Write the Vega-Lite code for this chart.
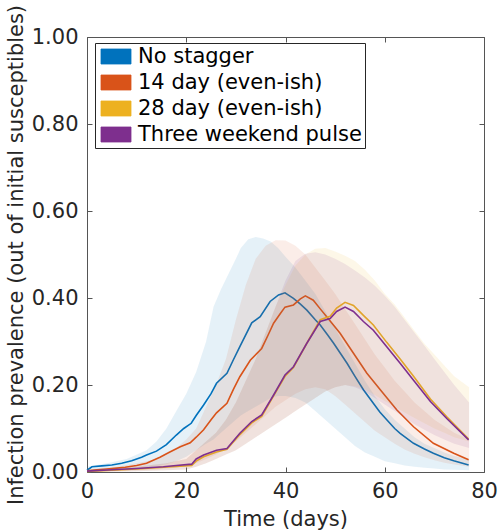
{
  "$schema": "https://vega.github.io/schema/vega-lite/v6.json",
  "autosize": {"type": "none"},
  "padding": {"left": 87, "top": 37, "right": 17, "bottom": 60},
  "width": 397,
  "height": 435,
  "background": "white",
  "config": {
    "view": {"stroke": null},
    "axis": {
      "grid": false,
      "labelFlush": false,
      "domainColor": "#555555",
      "domainWidth": 1,
      "tickColor": "#555555",
      "tickWidth": 1,
      "labelFont": "DejaVu Sans",
      "labelFontSize": 21,
      "labelColor": "#262626",
      "titleFont": "DejaVu Sans",
      "titleFontSize": 21,
      "titleFontWeight": "normal",
      "titleColor": "#262626"
    },
    "legend": {
      "orient": "none", "legendX": 8, "legendY": 6, "title": null,
      "symbolType": "M-1,-1L3,-1L3,1L-1,1Z", "symbolSize": 225,
      "labelFont": "DejaVu Sans", "labelFontSize": 21, "labelColor": "#000000", "labelLimit": 500,
      "labelOffset": 19, "rowPadding": 4, "padding": 3,
      "strokeColor": "#262626", "fillColor": "white",
      "symbolOpacity": 1, "symbolStrokeWidth": 0.8, "symbolStrokeColor": "#333333"
    }
  },
  "datasets": {
    "lines": [
      {"s": "No stagger", "d": 0, "v": 0.004},
      {"s": "No stagger", "d": 1, "v": 0.012},
      {"s": "No stagger", "d": 3, "v": 0.014},
      {"s": "No stagger", "d": 5, "v": 0.016},
      {"s": "No stagger", "d": 7, "v": 0.02},
      {"s": "No stagger", "d": 9, "v": 0.026},
      {"s": "No stagger", "d": 11, "v": 0.034},
      {"s": "No stagger", "d": 12, "v": 0.039},
      {"s": "No stagger", "d": 14, "v": 0.048},
      {"s": "No stagger", "d": 16, "v": 0.063},
      {"s": "No stagger", "d": 18, "v": 0.085},
      {"s": "No stagger", "d": 19.5, "v": 0.1},
      {"s": "No stagger", "d": 21, "v": 0.112},
      {"s": "No stagger", "d": 22, "v": 0.13},
      {"s": "No stagger", "d": 23.5, "v": 0.154},
      {"s": "No stagger", "d": 25, "v": 0.18},
      {"s": "No stagger", "d": 26.1, "v": 0.204},
      {"s": "No stagger", "d": 28.2, "v": 0.227},
      {"s": "No stagger", "d": 29.5, "v": 0.258},
      {"s": "No stagger", "d": 30.8, "v": 0.288},
      {"s": "No stagger", "d": 33.2, "v": 0.343},
      {"s": "No stagger", "d": 34.9, "v": 0.357},
      {"s": "No stagger", "d": 36.9, "v": 0.392},
      {"s": "No stagger", "d": 38.6, "v": 0.407},
      {"s": "No stagger", "d": 39.9, "v": 0.412},
      {"s": "No stagger", "d": 41.6, "v": 0.399},
      {"s": "No stagger", "d": 43, "v": 0.386},
      {"s": "No stagger", "d": 44.3, "v": 0.372},
      {"s": "No stagger", "d": 46, "v": 0.35},
      {"s": "No stagger", "d": 47, "v": 0.338},
      {"s": "No stagger", "d": 48.5, "v": 0.315},
      {"s": "No stagger", "d": 49.7, "v": 0.296},
      {"s": "No stagger", "d": 52.4, "v": 0.25},
      {"s": "No stagger", "d": 54, "v": 0.22},
      {"s": "No stagger", "d": 55.7, "v": 0.189},
      {"s": "No stagger", "d": 57.7, "v": 0.158},
      {"s": "No stagger", "d": 59, "v": 0.138},
      {"s": "No stagger", "d": 60.4, "v": 0.12},
      {"s": "No stagger", "d": 62, "v": 0.1},
      {"s": "No stagger", "d": 63.1, "v": 0.089},
      {"s": "No stagger", "d": 65.8, "v": 0.066},
      {"s": "No stagger", "d": 68, "v": 0.053},
      {"s": "No stagger", "d": 69.8, "v": 0.043},
      {"s": "No stagger", "d": 72, "v": 0.033},
      {"s": "No stagger", "d": 73.9, "v": 0.026},
      {"s": "No stagger", "d": 76.9, "v": 0.016},

      {"s": "14 day (even-ish)", "d": 0, "v": 0.003},
      {"s": "14 day (even-ish)", "d": 2, "v": 0.005},
      {"s": "14 day (even-ish)", "d": 4, "v": 0.007},
      {"s": "14 day (even-ish)", "d": 6, "v": 0.009},
      {"s": "14 day (even-ish)", "d": 7.7, "v": 0.011},
      {"s": "14 day (even-ish)", "d": 10, "v": 0.015},
      {"s": "14 day (even-ish)", "d": 12, "v": 0.02},
      {"s": "14 day (even-ish)", "d": 14.7, "v": 0.034},
      {"s": "14 day (even-ish)", "d": 16.5, "v": 0.045},
      {"s": "14 day (even-ish)", "d": 18.8, "v": 0.058},
      {"s": "14 day (even-ish)", "d": 20.8, "v": 0.067},
      {"s": "14 day (even-ish)", "d": 22, "v": 0.08},
      {"s": "14 day (even-ish)", "d": 23.5, "v": 0.097},
      {"s": "14 day (even-ish)", "d": 25, "v": 0.12},
      {"s": "14 day (even-ish)", "d": 26.1, "v": 0.136},
      {"s": "14 day (even-ish)", "d": 28.2, "v": 0.158},
      {"s": "14 day (even-ish)", "d": 29.5, "v": 0.19},
      {"s": "14 day (even-ish)", "d": 30.8, "v": 0.219},
      {"s": "14 day (even-ish)", "d": 32.9, "v": 0.257},
      {"s": "14 day (even-ish)", "d": 35.2, "v": 0.284},
      {"s": "14 day (even-ish)", "d": 36.5, "v": 0.315},
      {"s": "14 day (even-ish)", "d": 37.6, "v": 0.342},
      {"s": "14 day (even-ish)", "d": 39, "v": 0.365},
      {"s": "14 day (even-ish)", "d": 39.9, "v": 0.379},
      {"s": "14 day (even-ish)", "d": 41.6, "v": 0.384},
      {"s": "14 day (even-ish)", "d": 43, "v": 0.398},
      {"s": "14 day (even-ish)", "d": 44, "v": 0.405},
      {"s": "14 day (even-ish)", "d": 45.6, "v": 0.395},
      {"s": "14 day (even-ish)", "d": 47, "v": 0.375},
      {"s": "14 day (even-ish)", "d": 48.3, "v": 0.357},
      {"s": "14 day (even-ish)", "d": 51, "v": 0.319},
      {"s": "14 day (even-ish)", "d": 53.7, "v": 0.273},
      {"s": "14 day (even-ish)", "d": 56.4, "v": 0.227},
      {"s": "14 day (even-ish)", "d": 59.1, "v": 0.189},
      {"s": "14 day (even-ish)", "d": 62.4, "v": 0.143},
      {"s": "14 day (even-ish)", "d": 65.8, "v": 0.104},
      {"s": "14 day (even-ish)", "d": 69.8, "v": 0.066},
      {"s": "14 day (even-ish)", "d": 73.9, "v": 0.043},
      {"s": "14 day (even-ish)", "d": 76.9, "v": 0.028},

      {"s": "28 day (even-ish)", "d": 0, "v": 0.001},
      {"s": "28 day (even-ish)", "d": 5, "v": 0.004},
      {"s": "28 day (even-ish)", "d": 10, "v": 0.007},
      {"s": "28 day (even-ish)", "d": 15.4, "v": 0.011},
      {"s": "28 day (even-ish)", "d": 18, "v": 0.013},
      {"s": "28 day (even-ish)", "d": 21.1, "v": 0.015},
      {"s": "28 day (even-ish)", "d": 22, "v": 0.025},
      {"s": "28 day (even-ish)", "d": 23.5, "v": 0.035},
      {"s": "28 day (even-ish)", "d": 26.1, "v": 0.046},
      {"s": "28 day (even-ish)", "d": 28.2, "v": 0.052},
      {"s": "28 day (even-ish)", "d": 30.8, "v": 0.086},
      {"s": "28 day (even-ish)", "d": 33.2, "v": 0.113},
      {"s": "28 day (even-ish)", "d": 35.2, "v": 0.128},
      {"s": "28 day (even-ish)", "d": 37.6, "v": 0.175},
      {"s": "28 day (even-ish)", "d": 39.9, "v": 0.22},
      {"s": "28 day (even-ish)", "d": 41.6, "v": 0.24},
      {"s": "28 day (even-ish)", "d": 44.3, "v": 0.296},
      {"s": "28 day (even-ish)", "d": 47, "v": 0.35},
      {"s": "28 day (even-ish)", "d": 49, "v": 0.358},
      {"s": "28 day (even-ish)", "d": 50.3, "v": 0.377},
      {"s": "28 day (even-ish)", "d": 52, "v": 0.39},
      {"s": "28 day (even-ish)", "d": 53.7, "v": 0.383},
      {"s": "28 day (even-ish)", "d": 55.7, "v": 0.36},
      {"s": "28 day (even-ish)", "d": 57.7, "v": 0.338},
      {"s": "28 day (even-ish)", "d": 60.4, "v": 0.298},
      {"s": "28 day (even-ish)", "d": 63.1, "v": 0.26},
      {"s": "28 day (even-ish)", "d": 65.8, "v": 0.22},
      {"s": "28 day (even-ish)", "d": 69.2, "v": 0.168},
      {"s": "28 day (even-ish)", "d": 72.5, "v": 0.127},
      {"s": "28 day (even-ish)", "d": 76.9, "v": 0.076},

      {"s": "Three weekend pulse", "d": 0, "v": 0.002},
      {"s": "Three weekend pulse", "d": 5, "v": 0.005},
      {"s": "Three weekend pulse", "d": 10, "v": 0.008},
      {"s": "Three weekend pulse", "d": 15.4, "v": 0.012},
      {"s": "Three weekend pulse", "d": 18, "v": 0.015},
      {"s": "Three weekend pulse", "d": 21.1, "v": 0.018},
      {"s": "Three weekend pulse", "d": 22, "v": 0.03},
      {"s": "Three weekend pulse", "d": 23.5, "v": 0.039},
      {"s": "Three weekend pulse", "d": 26.1, "v": 0.05},
      {"s": "Three weekend pulse", "d": 28.2, "v": 0.054},
      {"s": "Three weekend pulse", "d": 30.8, "v": 0.089},
      {"s": "Three weekend pulse", "d": 33.2, "v": 0.116},
      {"s": "Three weekend pulse", "d": 35.2, "v": 0.131},
      {"s": "Three weekend pulse", "d": 37.6, "v": 0.177},
      {"s": "Three weekend pulse", "d": 39.9, "v": 0.223},
      {"s": "Three weekend pulse", "d": 41.6, "v": 0.242},
      {"s": "Three weekend pulse", "d": 44.3, "v": 0.296},
      {"s": "Three weekend pulse", "d": 47, "v": 0.346},
      {"s": "Three weekend pulse", "d": 49, "v": 0.353},
      {"s": "Three weekend pulse", "d": 50.3, "v": 0.369},
      {"s": "Three weekend pulse", "d": 52, "v": 0.379},
      {"s": "Three weekend pulse", "d": 53.7, "v": 0.369},
      {"s": "Three weekend pulse", "d": 55.7, "v": 0.346},
      {"s": "Three weekend pulse", "d": 57.7, "v": 0.326},
      {"s": "Three weekend pulse", "d": 60.4, "v": 0.288},
      {"s": "Three weekend pulse", "d": 63.1, "v": 0.25},
      {"s": "Three weekend pulse", "d": 65.8, "v": 0.211},
      {"s": "Three weekend pulse", "d": 69.2, "v": 0.162},
      {"s": "Three weekend pulse", "d": 72.5, "v": 0.123},
      {"s": "Three weekend pulse", "d": 76.9, "v": 0.074}
    ],
    "bands": [
      {"s": "No stagger", "d": 0, "lo": 0.0, "hi": 0.012},
      {"s": "No stagger", "d": 4, "lo": 0.003, "hi": 0.02},
      {"s": "No stagger", "d": 8, "lo": 0.006, "hi": 0.03},
      {"s": "No stagger", "d": 12, "lo": 0.01, "hi": 0.05},
      {"s": "No stagger", "d": 14, "lo": 0.013, "hi": 0.07},
      {"s": "No stagger", "d": 16, "lo": 0.018, "hi": 0.1},
      {"s": "No stagger", "d": 18, "lo": 0.025, "hi": 0.14},
      {"s": "No stagger", "d": 20, "lo": 0.035, "hi": 0.18},
      {"s": "No stagger", "d": 22, "lo": 0.05, "hi": 0.23},
      {"s": "No stagger", "d": 24, "lo": 0.065, "hi": 0.3},
      {"s": "No stagger", "d": 25.5, "lo": 0.075, "hi": 0.38},
      {"s": "No stagger", "d": 27, "lo": 0.09, "hi": 0.42},
      {"s": "No stagger", "d": 28.5, "lo": 0.105, "hi": 0.455},
      {"s": "No stagger", "d": 30, "lo": 0.12, "hi": 0.49},
      {"s": "No stagger", "d": 31, "lo": 0.13, "hi": 0.515},
      {"s": "No stagger", "d": 32.5, "lo": 0.14, "hi": 0.535},
      {"s": "No stagger", "d": 34, "lo": 0.15, "hi": 0.54},
      {"s": "No stagger", "d": 35.5, "lo": 0.16, "hi": 0.537},
      {"s": "No stagger", "d": 37, "lo": 0.17, "hi": 0.53},
      {"s": "No stagger", "d": 38.5, "lo": 0.175, "hi": 0.515},
      {"s": "No stagger", "d": 40, "lo": 0.175, "hi": 0.495},
      {"s": "No stagger", "d": 42, "lo": 0.17, "hi": 0.47},
      {"s": "No stagger", "d": 44, "lo": 0.16, "hi": 0.44},
      {"s": "No stagger", "d": 46, "lo": 0.14, "hi": 0.41},
      {"s": "No stagger", "d": 48, "lo": 0.12, "hi": 0.37},
      {"s": "No stagger", "d": 50, "lo": 0.1, "hi": 0.33},
      {"s": "No stagger", "d": 52, "lo": 0.08, "hi": 0.29},
      {"s": "No stagger", "d": 54, "lo": 0.06, "hi": 0.25},
      {"s": "No stagger", "d": 56, "lo": 0.045, "hi": 0.21},
      {"s": "No stagger", "d": 58, "lo": 0.035, "hi": 0.175},
      {"s": "No stagger", "d": 60, "lo": 0.025, "hi": 0.145},
      {"s": "No stagger", "d": 62, "lo": 0.02, "hi": 0.12},
      {"s": "No stagger", "d": 64, "lo": 0.015, "hi": 0.1},
      {"s": "No stagger", "d": 66, "lo": 0.012, "hi": 0.08},
      {"s": "No stagger", "d": 68, "lo": 0.01, "hi": 0.065},
      {"s": "No stagger", "d": 70, "lo": 0.008, "hi": 0.055},
      {"s": "No stagger", "d": 72, "lo": 0.006, "hi": 0.045},
      {"s": "No stagger", "d": 74, "lo": 0.005, "hi": 0.037},
      {"s": "No stagger", "d": 77, "lo": 0.004, "hi": 0.03},

      {"s": "14 day (even-ish)", "d": 0, "lo": 0.0, "hi": 0.006},
      {"s": "14 day (even-ish)", "d": 6, "lo": 0.002, "hi": 0.012},
      {"s": "14 day (even-ish)", "d": 10, "lo": 0.004, "hi": 0.02},
      {"s": "14 day (even-ish)", "d": 14, "lo": 0.006, "hi": 0.03},
      {"s": "14 day (even-ish)", "d": 16, "lo": 0.008, "hi": 0.04},
      {"s": "14 day (even-ish)", "d": 18, "lo": 0.01, "hi": 0.055},
      {"s": "14 day (even-ish)", "d": 20, "lo": 0.015, "hi": 0.075},
      {"s": "14 day (even-ish)", "d": 22, "lo": 0.02, "hi": 0.1},
      {"s": "14 day (even-ish)", "d": 24, "lo": 0.03, "hi": 0.15},
      {"s": "14 day (even-ish)", "d": 26, "lo": 0.04, "hi": 0.2},
      {"s": "14 day (even-ish)", "d": 28, "lo": 0.055, "hi": 0.26},
      {"s": "14 day (even-ish)", "d": 30, "lo": 0.07, "hi": 0.35},
      {"s": "14 day (even-ish)", "d": 32, "lo": 0.09, "hi": 0.43},
      {"s": "14 day (even-ish)", "d": 34, "lo": 0.11, "hi": 0.49},
      {"s": "14 day (even-ish)", "d": 36, "lo": 0.13, "hi": 0.52},
      {"s": "14 day (even-ish)", "d": 38, "lo": 0.15, "hi": 0.533},
      {"s": "14 day (even-ish)", "d": 40, "lo": 0.165, "hi": 0.532},
      {"s": "14 day (even-ish)", "d": 42, "lo": 0.18, "hi": 0.52},
      {"s": "14 day (even-ish)", "d": 44, "lo": 0.19, "hi": 0.5},
      {"s": "14 day (even-ish)", "d": 46, "lo": 0.195, "hi": 0.47},
      {"s": "14 day (even-ish)", "d": 48, "lo": 0.19, "hi": 0.44},
      {"s": "14 day (even-ish)", "d": 50, "lo": 0.175, "hi": 0.41},
      {"s": "14 day (even-ish)", "d": 52, "lo": 0.155, "hi": 0.375},
      {"s": "14 day (even-ish)", "d": 54, "lo": 0.135, "hi": 0.34},
      {"s": "14 day (even-ish)", "d": 56, "lo": 0.115, "hi": 0.305},
      {"s": "14 day (even-ish)", "d": 58, "lo": 0.095, "hi": 0.27},
      {"s": "14 day (even-ish)", "d": 60, "lo": 0.08, "hi": 0.24},
      {"s": "14 day (even-ish)", "d": 62, "lo": 0.065, "hi": 0.21},
      {"s": "14 day (even-ish)", "d": 64, "lo": 0.052, "hi": 0.185},
      {"s": "14 day (even-ish)", "d": 66, "lo": 0.042, "hi": 0.16},
      {"s": "14 day (even-ish)", "d": 68, "lo": 0.034, "hi": 0.14},
      {"s": "14 day (even-ish)", "d": 70, "lo": 0.027, "hi": 0.12},
      {"s": "14 day (even-ish)", "d": 72, "lo": 0.021, "hi": 0.105},
      {"s": "14 day (even-ish)", "d": 74, "lo": 0.017, "hi": 0.09},
      {"s": "14 day (even-ish)", "d": 77, "lo": 0.012, "hi": 0.075},

      {"s": "28 day (even-ish)", "d": 0, "lo": 0.0, "hi": 0.004},
      {"s": "28 day (even-ish)", "d": 10, "lo": 0.002, "hi": 0.012},
      {"s": "28 day (even-ish)", "d": 16, "lo": 0.004, "hi": 0.02},
      {"s": "28 day (even-ish)", "d": 20, "lo": 0.006, "hi": 0.03},
      {"s": "28 day (even-ish)", "d": 22, "lo": 0.012, "hi": 0.05},
      {"s": "28 day (even-ish)", "d": 24, "lo": 0.02, "hi": 0.07},
      {"s": "28 day (even-ish)", "d": 26, "lo": 0.03, "hi": 0.09},
      {"s": "28 day (even-ish)", "d": 28, "lo": 0.04, "hi": 0.12},
      {"s": "28 day (even-ish)", "d": 30, "lo": 0.05, "hi": 0.16},
      {"s": "28 day (even-ish)", "d": 32, "lo": 0.065, "hi": 0.21},
      {"s": "28 day (even-ish)", "d": 34, "lo": 0.08, "hi": 0.26},
      {"s": "28 day (even-ish)", "d": 36, "lo": 0.095, "hi": 0.32},
      {"s": "28 day (even-ish)", "d": 38, "lo": 0.11, "hi": 0.38},
      {"s": "28 day (even-ish)", "d": 40, "lo": 0.125, "hi": 0.43},
      {"s": "28 day (even-ish)", "d": 42, "lo": 0.14, "hi": 0.475},
      {"s": "28 day (even-ish)", "d": 44, "lo": 0.155, "hi": 0.5},
      {"s": "28 day (even-ish)", "d": 46, "lo": 0.17, "hi": 0.513},
      {"s": "28 day (even-ish)", "d": 48, "lo": 0.185, "hi": 0.515},
      {"s": "28 day (even-ish)", "d": 50, "lo": 0.195, "hi": 0.507},
      {"s": "28 day (even-ish)", "d": 52, "lo": 0.2, "hi": 0.497},
      {"s": "28 day (even-ish)", "d": 54, "lo": 0.197, "hi": 0.485},
      {"s": "28 day (even-ish)", "d": 56, "lo": 0.19, "hi": 0.465},
      {"s": "28 day (even-ish)", "d": 58, "lo": 0.177, "hi": 0.44},
      {"s": "28 day (even-ish)", "d": 60, "lo": 0.163, "hi": 0.41},
      {"s": "28 day (even-ish)", "d": 62, "lo": 0.15, "hi": 0.385},
      {"s": "28 day (even-ish)", "d": 64, "lo": 0.137, "hi": 0.355},
      {"s": "28 day (even-ish)", "d": 66, "lo": 0.124, "hi": 0.325},
      {"s": "28 day (even-ish)", "d": 68, "lo": 0.112, "hi": 0.295},
      {"s": "28 day (even-ish)", "d": 70, "lo": 0.1, "hi": 0.27},
      {"s": "28 day (even-ish)", "d": 72, "lo": 0.09, "hi": 0.245},
      {"s": "28 day (even-ish)", "d": 74, "lo": 0.08, "hi": 0.22},
      {"s": "28 day (even-ish)", "d": 77, "lo": 0.07, "hi": 0.195},

      {"s": "Three weekend pulse", "d": 0, "lo": 0.0, "hi": 0.004},
      {"s": "Three weekend pulse", "d": 10, "lo": 0.002, "hi": 0.012},
      {"s": "Three weekend pulse", "d": 16, "lo": 0.004, "hi": 0.02},
      {"s": "Three weekend pulse", "d": 20, "lo": 0.006, "hi": 0.03},
      {"s": "Three weekend pulse", "d": 22, "lo": 0.012, "hi": 0.05},
      {"s": "Three weekend pulse", "d": 24, "lo": 0.02, "hi": 0.07},
      {"s": "Three weekend pulse", "d": 26, "lo": 0.03, "hi": 0.09},
      {"s": "Three weekend pulse", "d": 28, "lo": 0.04, "hi": 0.12},
      {"s": "Three weekend pulse", "d": 30, "lo": 0.05, "hi": 0.16},
      {"s": "Three weekend pulse", "d": 32, "lo": 0.065, "hi": 0.21},
      {"s": "Three weekend pulse", "d": 34, "lo": 0.08, "hi": 0.26},
      {"s": "Three weekend pulse", "d": 36, "lo": 0.095, "hi": 0.32},
      {"s": "Three weekend pulse", "d": 38, "lo": 0.11, "hi": 0.38},
      {"s": "Three weekend pulse", "d": 40, "lo": 0.125, "hi": 0.44},
      {"s": "Three weekend pulse", "d": 42, "lo": 0.14, "hi": 0.485},
      {"s": "Three weekend pulse", "d": 44, "lo": 0.155, "hi": 0.502},
      {"s": "Three weekend pulse", "d": 46, "lo": 0.17, "hi": 0.505},
      {"s": "Three weekend pulse", "d": 48, "lo": 0.185, "hi": 0.5},
      {"s": "Three weekend pulse", "d": 50, "lo": 0.195, "hi": 0.49},
      {"s": "Three weekend pulse", "d": 52, "lo": 0.2, "hi": 0.478},
      {"s": "Three weekend pulse", "d": 54, "lo": 0.195, "hi": 0.463},
      {"s": "Three weekend pulse", "d": 56, "lo": 0.185, "hi": 0.447},
      {"s": "Three weekend pulse", "d": 58, "lo": 0.17, "hi": 0.428},
      {"s": "Three weekend pulse", "d": 60, "lo": 0.155, "hi": 0.405},
      {"s": "Three weekend pulse", "d": 62, "lo": 0.14, "hi": 0.38},
      {"s": "Three weekend pulse", "d": 64, "lo": 0.125, "hi": 0.35},
      {"s": "Three weekend pulse", "d": 66, "lo": 0.11, "hi": 0.32},
      {"s": "Three weekend pulse", "d": 68, "lo": 0.097, "hi": 0.29},
      {"s": "Three weekend pulse", "d": 70, "lo": 0.085, "hi": 0.26},
      {"s": "Three weekend pulse", "d": 72, "lo": 0.075, "hi": 0.23},
      {"s": "Three weekend pulse", "d": 74, "lo": 0.065, "hi": 0.2},
      {"s": "Three weekend pulse", "d": 77, "lo": 0.055, "hi": 0.16}
    ]
  },
  "layer": [
    {
      "data": {"name": "bands"},
      "transform": [{"filter": "datum.s === 'No stagger'"}],
      "mark": {"type": "area", "fillOpacity": 0.1},
      "encoding": {
        "x": {"field": "d", "type": "quantitative", "scale": {"domain": [0, 80], "nice": false},
          "axis": {"orient": "bottom", "values": [0, 20, 40, 60, 80], "format": "d", "title": "Time (days)", "tickSize": -5, "labelPadding": 13, "titlePadding": 7}},
        "y": {"field": "lo", "type": "quantitative", "scale": {"domain": [0, 1], "nice": false},
          "axis": {"orient": "left", "values": [0, 0.2, 0.4, 0.6, 0.8, 1], "format": ".2f", "title": "Infection prevalence (out of initial susceptibles)", "tickSize": -5, "labelPadding": 14, "titlePadding": 5}},
        "y2": {"field": "hi"},
        "color": {"field": "s", "type": "nominal",
          "scale": {"domain": ["No stagger", "14 day (even-ish)", "28 day (even-ish)", "Three weekend pulse"], "range": ["#0072BD", "#D95319", "#EDB120", "#7E2F8E"]},
          "legend": {
            "orient": "none", "legendX": 8, "legendY": 6, "title": null, "labelLimit": 500,
            "symbolType": "M-1,-1L3,-1L3,1L-1,1Z", "symbolSize": 225,
            "symbolOpacity": 1, "symbolFillColor": "#888888",
            "encode": {"symbols": {"update": {"fill": {"scale": "color", "field": "value"}, "fillOpacity": {"value": 1}, "stroke": {"value": "#333333"}, "strokeWidth": {"value": 0.8}, "opacity": {"value": 1}}}}
          }}
      }
    },
    {
      "data": {"name": "lines"},
      "transform": [{"filter": "datum.s === 'No stagger'"}],
      "mark": {"type": "line", "strokeWidth": 1.6},
      "encoding": {
        "x": {"field": "d", "type": "quantitative",
          "axis": {"orient": "top", "values": [0, 20, 40, 60, 80], "labels": false, "title": null, "tickSize": -5}},
        "y": {"field": "v", "type": "quantitative",
          "axis": {"orient": "right", "values": [0, 0.2, 0.4, 0.6, 0.8, 1], "labels": false, "title": null, "tickSize": -5}},
        "color": {"field": "s", "type": "nominal"}
      }
    },
    {
      "data": {"name": "bands"},
      "transform": [{"filter": "datum.s === '14 day (even-ish)'"}],
      "mark": {"type": "area", "fillOpacity": 0.1},
      "encoding": {
        "x": {"field": "d", "type": "quantitative", "axis": null},
        "y": {"field": "lo", "type": "quantitative", "axis": null},
        "y2": {"field": "hi"},
        "color": {"field": "s", "type": "nominal"}
      }
    },
    {
      "data": {"name": "lines"},
      "transform": [{"filter": "datum.s === '14 day (even-ish)'"}],
      "mark": {"type": "line", "strokeWidth": 1.6},
      "encoding": {
        "x": {"field": "d", "type": "quantitative", "axis": null},
        "y": {"field": "v", "type": "quantitative", "axis": null},
        "color": {"field": "s", "type": "nominal"}
      }
    },
    {
      "data": {"name": "bands"},
      "transform": [{"filter": "datum.s === '28 day (even-ish)'"}],
      "mark": {"type": "area", "fillOpacity": 0.1},
      "encoding": {
        "x": {"field": "d", "type": "quantitative", "axis": null},
        "y": {"field": "lo", "type": "quantitative", "axis": null},
        "y2": {"field": "hi"},
        "color": {"field": "s", "type": "nominal"}
      }
    },
    {
      "data": {"name": "lines"},
      "transform": [{"filter": "datum.s === '28 day (even-ish)'"}],
      "mark": {"type": "line", "strokeWidth": 1.6},
      "encoding": {
        "x": {"field": "d", "type": "quantitative", "axis": null},
        "y": {"field": "v", "type": "quantitative", "axis": null},
        "color": {"field": "s", "type": "nominal"}
      }
    },
    {
      "data": {"name": "bands"},
      "transform": [{"filter": "datum.s === 'Three weekend pulse'"}],
      "mark": {"type": "area", "fillOpacity": 0.1},
      "encoding": {
        "x": {"field": "d", "type": "quantitative", "axis": null},
        "y": {"field": "lo", "type": "quantitative", "axis": null},
        "y2": {"field": "hi"},
        "color": {"field": "s", "type": "nominal"}
      }
    },
    {
      "data": {"name": "lines"},
      "transform": [{"filter": "datum.s === 'Three weekend pulse'"}],
      "mark": {"type": "line", "strokeWidth": 1.6},
      "encoding": {
        "x": {"field": "d", "type": "quantitative", "axis": null},
        "y": {"field": "v", "type": "quantitative", "axis": null},
        "color": {"field": "s", "type": "nominal"}
      }
    }
  ],
  "resolve": {"axis": {"x": "independent", "y": "independent"}}
}
